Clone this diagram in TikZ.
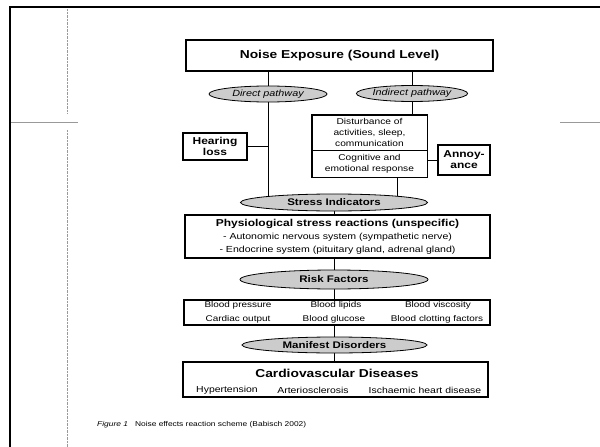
\documentclass[tikz,border=0pt]{standalone}
\usepackage{fontspec}
\setmainfont[FakeStretch=1.2]{Liberation Sans}
\usetikzlibrary{shapes.geometric,backgrounds}
\newcommand{\fsz}[2]{\fontsize{#1}{#2}\selectfont}
\tikzset{box/.style={draw=black,line width=1.6pt,inner sep=1pt,align=center}}
\tikzset{oval/.style={ellipse,draw=black,line width=0.8pt,fill=black!20,inner sep=0pt}}
\tikzset{item/.style={inner sep=0pt,font=\fsz{8.3}{9}}}
\tikzset{link/.style={line width=1pt}}

\begin{document}
\begin{tikzpicture}[x=1pt,y=-1pt]
\useasboundingbox (0,0) rectangle (600,447);
% page frame of the scan
\draw[line width=2.2pt,black] (10,447) -- (10,7) -- (600,7);
\draw[black!40,densely dotted] (67,9) -- (67,113) (67,130) -- (67,447);
\draw[black!40] (11,122) -- (78,122) (560,122) -- (600,122);

\node (noise) at (339.5,55.5) [box,minimum width=307pt,minimum height=31pt,font=\fsz{11.5}{14}\bfseries] {Noise Exposure (Sound Level)};
\node (direct) at (268,94) [oval,minimum width=118pt,minimum height=16pt,font=\fsz{9}{10}\itshape] {Direct pathway};
\node (indirect) at (412,93.5) [oval,minimum width=102pt,minimum height=16pt,font=\fsz{9}{10}\itshape] {Indirect pathway};
\node (hear) at (215,146.5) [box,minimum width=64pt,minimum height=27pt,font=\fsz{10}{11}\bfseries] {Hearing\\loss};
\node (distA) at (369.5,132.5) [minimum width=115pt,minimum height=35pt,inner sep=0pt,align=center,font=\fsz{8.5}{11}] {Disturbance of\\activities, sleep,\\communication};
\node (distB) at (369.5,163.5) [minimum width=115pt,minimum height=27pt,inner sep=0pt,align=center,font=\fsz{8.5}{11}] {Cognitive and\\emotional response};
\draw[line width=1.4pt] (distA.north west) rectangle (distB.south east);
\draw[link] (distA.south west) -- (distA.south east);
\node (annoy) at (464,160) [box,minimum width=52pt,minimum height=30pt,font=\fsz{10}{11}\bfseries] {Annoy-\\ance};

\node (stress) at (334,202.5) [oval,minimum width=187pt,minimum height=17pt,font=\fsz{9.6}{10}\bfseries] {Stress Indicators};
\node (physio) at (337.5,236.5) [box,minimum width=305pt,minimum height=43pt,font=\fsz{8.8}{13}] {{\fsz{10}{12}\bfseries Physiological stress reactions (unspecific)}\\- Autonomic nervous system (sympathetic nerve)\\- Endocrine system (pituitary gland, adrenal gland)};

\node (risk) at (334,279.5) [oval,minimum width=188pt,minimum height=19pt,font=\fsz{9.6}{10}\bfseries] {Risk Factors};
\node (riskbox) at (337,312.5) [box,minimum width=306pt,minimum height=25pt] {};
\node (bp) at (238,305) [item] {Blood pressure};
\node (bl) at (336,305) [item] {Blood lipids};
\node (bv) at (438,305) [item] {Blood viscosity};
\node (co) at (238,319) [item] {Cardiac output};
\node (bg) at (334,319) [item] {Blood glucose};
\node (bc) at (437,319) [item] {Blood clotting factors};

\node (manifest) at (334.5,345) [oval,minimum width=185pt,minimum height=16pt,font=\fsz{9.6}{10}\bfseries] {Manifest Disorders};
\node (cvd) at (335.5,379.5) [box,minimum width=305pt,minimum height=35pt] {};
\node (cvdtitle) at (337,373) [inner sep=0pt,font=\fsz{11.5}{14}\bfseries] {Cardiovascular Diseases};
\node (hyp) at (227,390) [item,font=\fsz{8.7}{9}] {Hypertension};
\node (art) at (313,390) [item,font=\fsz{8.7}{9}] {Arteriosclerosis};
\node (isch) at (425,390) [item,font=\fsz{8.7}{9}] {Ischaemic heart disease};

\node (cap) at (97,425) [anchor=west,inner sep=0pt,font=\fsz{7}{8}] {\textit{Figure 1}\quad Noise effects reaction scheme (Babisch 2002)};

\begin{scope}[on background layer]
\draw[link] (direct |- noise.south) -- (direct) -- (direct |- stress);
\draw[link] (indirect |- noise.south) -- (indirect) -- (indirect |- distA.north);
\draw[link] (hear.east) -- (hear.east -| direct);
\draw[link] (annoy.west) -- (annoy.west -| distB.east);
\draw[link] ([xshift=27.5pt]distB.south) -- ([xshift=27.5pt]distB.south |- stress);
\draw[link] (stress) -- (stress |- physio.north);
\draw[link] (risk |- physio.south) -- (risk) -- (risk |- riskbox.north);
\draw[link] (manifest |- riskbox.south) -- (manifest) -- (manifest |- cvd.north);
\end{scope}
\end{tikzpicture}
\end{document}
